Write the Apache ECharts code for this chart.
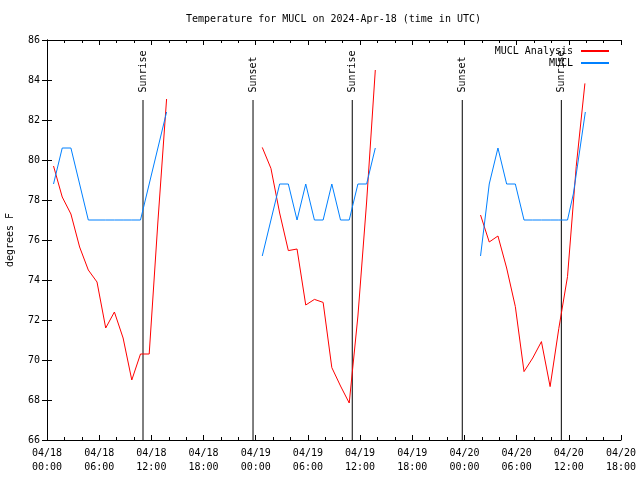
<!DOCTYPE html>
<html>
<head>
<meta charset="utf-8">
<script src="https://cdn.jsdelivr.net/npm/echarts@6/dist/echarts.min.js"></script>
<style>html,body{margin:0;padding:0;background:#fff}#c{width:640px;height:480px}</style>
</head>
<body>
<div id="c"></div>
<script>
// ---- data (hours since 2024-04-18 00:00 UTC) ----
const xTickLabels = ['04/18\n00:00','04/18\n06:00','04/18\n12:00','04/18\n18:00','04/19\n00:00','04/19\n06:00','04/19\n12:00','04/19\n18:00','04/20\n00:00','04/20\n06:00','04/20\n12:00','04/20\n18:00'];

const day1Hours = [0.75,1.75,2.75,3.75,4.75,5.75,6.75,7.75,8.75,9.75,10.75,11.75,12.75,13.75];
const day2Hours = [24.75,25.75,26.75,27.75,28.75,29.75,30.75,31.75,32.75,33.75,34.75,35.75,36.75,37.75];
const day3HoursAnalysis = [49.85,50.85,51.85,52.85,53.85,54.85,55.85,56.85,57.85,58.85,59.85,60.85,61.85];
const day3HoursObs = [49.85,50.85,51.85,52.85,53.85,54.85,55.85,56.85,57.85,58.85,59.85,60.52,61.9];

const analysisDay1 = [79.7,78.15,77.3,75.65,74.5,73.9,71.6,72.4,71.1,69.0,70.3,70.3,76.9,83.05];
const analysisDay2 = [80.63,79.58,77.35,75.47,75.55,72.75,73.03,72.88,69.62,68.7,67.85,72.2,77.9,84.5];
const analysisDay3 = [77.25,75.9,76.2,74.6,72.67,69.42,70.1,70.92,68.67,71.58,74.17,79.67,83.83];

const obsDay1 = [78.8,80.6,80.6,78.8,77,77,77,77,77,77,77,78.8,80.6,82.4];
const obsDay2 = [75.2,77,78.8,78.8,77,78.8,77,77,78.8,77,77,78.8,78.8,80.6];
const obsDay3 = [75.2,78.8,80.6,78.8,78.8,77,77,77,77,77,77,78.3,82.4];

const markerHours = [11.04,23.69,35.1,47.75,59.14];
const markerNames = ['Sunrise','Sunset','Sunrise','Sunset','Sunrise'];
const markerTop = 83;

// ---- chart ----
const FONT = 'DejaVu Sans Mono';
const zip = (xs, ys) => xs.map((x, i) => [x, ys[i]]);

const markerSeries = markerHours.map((h, i) => ({
  type: 'line',
  name: 'marker' + i,
  silent: true,
  symbol: 'circle',
  symbolSize: 1,
  itemStyle: { color: 'rgba(0,0,0,0)' },
  lineStyle: { color: '#000', width: 1 },
  data: [
    [h, 66],
    { value: [h, markerTop],
      label: { show: true, formatter: markerNames[i], position: 'top', distance: 7,
               rotate: 90, align: 'left', verticalAlign: 'middle',
               color: '#000', fontFamily: FONT, fontSize: 10 } }
  ],
  z: 1
}));

const mk = (name, color, xs, ys) => ({
  type: 'line', name, data: zip(xs, ys), symbol: 'none', showSymbol: false,
  lineStyle: { color, width: 1 }, itemStyle: { color }, z: 3
});

const RED = '#ff0000', BLUE = '#0080ff';

const axisCommon = {
  axisLine: { show: true, lineStyle: { color: '#000', width: 1 } },
  splitLine: { show: false }
};

const legendCommon = {
  right: 30, padding: 0, align: 'right', itemWidth: 28, itemHeight: 12,
  itemStyle: { opacity: 0 },
  textStyle: { fontFamily: FONT, fontSize: 10, color: '#000', padding: [0, 3, 0, 0] }
};

const option = {
  animation: false,
  backgroundColor: '#fff',
  title: {
    text: 'Temperature for MUCL on 2024-Apr-18 (time in UTC)',
    left: 186, top: 14, padding: 0,
    textStyle: { fontFamily: FONT, fontSize: 10, fontWeight: 'normal', color: '#000' }
  },
  legend: [
    Object.assign({ data: ['MUCL Analysis'], top: 46 }, legendCommon),
    Object.assign({ data: ['MUCL'], top: 58 }, legendCommon)
  ],
  grid: { left: 47, right: 19, top: 40, bottom: 40, containLabel: false, outerBoundsMode: 'none' },
  xAxis: [
    Object.assign({}, axisCommon, {
      type: 'value', min: 0, max: 66, interval: 6, position: 'bottom',
      axisTick: { show: true, inside: true, length: 5, lineStyle: { color: '#000' } },
      minorTick: { show: true, splitNumber: 3, length: 3, lineStyle: { color: '#000' } },
      axisLabel: { show: true, margin: 6, fontFamily: FONT, fontSize: 10, color: '#000', lineHeight: 14,
                   formatter: v => xTickLabels[Math.round(v / 6)] || '' }
    }),
    Object.assign({}, axisCommon, {
      type: 'value', min: 0, max: 66, interval: 6, position: 'top',
      axisTick: { show: true, inside: true, length: 5, lineStyle: { color: '#000' } },
      minorTick: { show: true, splitNumber: 3, length: 3, lineStyle: { color: '#000' } },
      axisLabel: { show: false }
    })
  ],
  yAxis: [
    Object.assign({}, axisCommon, {
      type: 'value', min: 66, max: 86, interval: 2, position: 'left',
      name: 'degrees F', nameLocation: 'middle', nameGap: 32,
      nameTextStyle: { fontFamily: FONT, fontSize: 10, color: '#000' },
      axisTick: { show: true, inside: true, length: 5, lineStyle: { color: '#000' } },
      axisLabel: { show: true, margin: 7, fontFamily: FONT, fontSize: 10, color: '#000' }
    }),
    Object.assign({}, axisCommon, {
      type: 'value', min: 66, max: 86, interval: 2, position: 'right',
      axisTick: { show: true, inside: true, length: 5, lineStyle: { color: '#000' } },
      axisLabel: { show: false }
    })
  ],
  series: [
    ...markerSeries,
    mk('MUCL Analysis', RED, day1Hours, analysisDay1),
    mk('MUCL Analysis', RED, day2Hours, analysisDay2),
    mk('MUCL Analysis', RED, day3HoursAnalysis, analysisDay3),
    mk('MUCL', BLUE, day1Hours, obsDay1),
    mk('MUCL', BLUE, day2Hours, obsDay2),
    mk('MUCL', BLUE, day3HoursObs, obsDay3)
  ]
};

const chart = echarts.init(document.getElementById('c'), null, { renderer: 'canvas' });
chart.setOption(option);
</script>
</body>
</html>
